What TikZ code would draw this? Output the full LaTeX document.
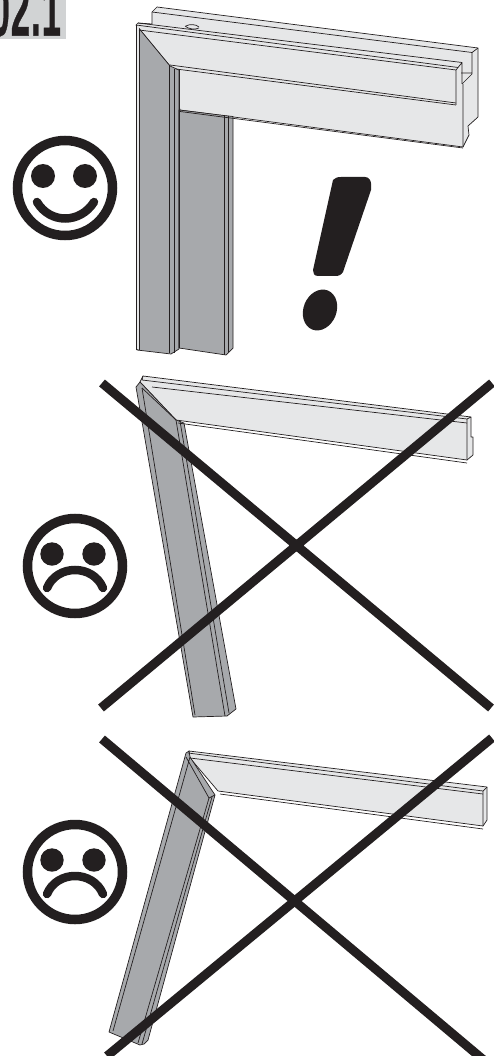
\documentclass[tikz,border=0pt]{standalone}
\usepackage{fontspec}
\setmainfont{Liberation Sans}
\newfontfamily\tabfont[BoldFeatures={FakeBold=0.7}, LetterSpace=3]{Liberation Sans}
\usetikzlibrary{positioning}
\definecolor{inkdark}{RGB}{35,31,32}
\definecolor{railgray}{RGB}{230,231,232}
\definecolor{leggray}{RGB}{167,169,172}
\definecolor{tabgray}{RGB}{209,211,212}
\tikzset{
  rail/.style={fill=railgray, draw=inkdark, line width=0.7pt, line join=round},
  leg/.style={fill=leggray, draw=inkdark, line width=0.7pt, line join=round},
  edgeline/.style={draw=inkdark, line width=0.7pt},
  crossbar/.style={draw=inkdark, line width=9pt},
  faceline/.style={draw=inkdark, line width=9.5pt},
  mouthline/.style={draw=inkdark, line width=8.5pt, line cap=round},
  eyedot/.style={fill=inkdark, draw=none}
}
\begin{document}
\begin{tikzpicture}[x=1pt, y=-1pt]
  \useasboundingbox (0,0) rectangle (494,1056);
  \clip (0,0) rectangle (494,1056);
  % Tab
  \fill[tabgray] (0,0) rectangle (66,39);
  \begin{scope}
    \clip (0,0) rectangle (66,39);
    \node[anchor=south east, inner sep=0pt, xscale=0.46, text=inkdark, font=\fontsize{75}{75}\tabfont\bfseries] (tab) at (61,36.5) {02.1};
  \end{scope}
  % Good frame
  \path[rail] (157,7) -- (478,48) -- (478,117) -- (468,126) -- (469,135) -- (463,147) -- (180,110) -- (170,66) -- (136,25) -- (138,23) -- (152,24) -- (152,12) -- cycle;
  \path[leg] (137,26) -- (170,66) -- (179,70) -- (179,349) -- (171,354) -- (137,350) -- cycle;
  \path[leg] (179,110) -- (224,115.5) -- (233,116.5) -- (233,348) -- (226,355) -- (179,348) -- cycle;
  \fill[railgray] (136,25) rectangle (138.5,349);
  \draw[edgeline] (136,25) -- (136,350) (139,29) -- (139,350);
  \draw[edgeline] (169,65) -- (169,353) (174,69) -- (174,353) (179,70) -- (179,348);
  \draw[edgeline] (224,115) -- (224,355) (228,116) -- (228,352);
  % Rail lines
  \draw[edgeline] (152,12) -- (472,52.5) -- (478,48);
  \draw[edgeline] (138,23) -- (462,62.5) (136,25) -- (458,67.5) (139,30) -- (456,70);
  \draw[edgeline] (170,65) -- (456,103) (176,69) -- (456,105);
  \draw[edgeline] (462,62.5) -- (462,84) (456,70) -- (456,105) (462,62.5) -- (456,70);
  \draw[edgeline] (472,52.5) -- (472,74) -- (462,84) (461,73) -- (472,73);
  \draw[edgeline] (463,84) -- (463,147) (180,111.5) -- (463,148);
  \draw[edgeline] (186,26) .. controls (189,24) and (196,24) .. (199,27);
  \draw[edgeline] (185,26) .. controls (188,29) and (195,30) .. (199,28);
  % Exclamation mark
  \fill[inkdark] (333,180) .. controls (335,178) and (337,177) .. (341,177) -- (365,177) .. controls (369,177) and (372,180) .. (371,190) -- (343,272) .. controls (341,275) and (339,276) .. (335,276) -- (318,276) .. controls (314,276) and (313,273) .. (313,270) -- cycle;
  \fill[inkdark] (320,310) ellipse [x radius=16.5, y radius=21, rotate=-22];
  % Happy face
  \draw[faceline] (65,188) circle (47.5);
  \fill[eyedot] (43,176) circle (12) (85,176) circle (12);
  \draw[mouthline] (37,202) .. controls (50,224) and (80,224) .. (94,202);
  % Frame with leg tilted inward
  \path[rail] (143,376) -- (471,417) -- (471,437) -- (473,437) -- (473,455) -- (467,460) -- (176,420) -- (140,382) -- cycle;
  \path[leg] (136,387) -- (140,382) -- (176,420) -- (184,423) -- (236,709) -- (227,716) -- (193,717) -- cycle;
  \draw[edgeline] (142,388) -- (195,715) (176,420) -- (225,716) (180,421) -- (229,713);
  \draw[edgeline] (142,388) -- (176,420);
  \draw[edgeline] (142,380) -- (467,419) (152,387) -- (467,423) (143,376) -- (142,380);
  \draw[edgeline] (467,419) -- (467,460) (471,417) -- (467,419) (178,423) -- (467,463);
  % Frame with leg tilted outward
  \path[rail] (189,751) -- (487,787) -- (487,820) -- (483,826) -- (218,791) -- (190,758) -- cycle;
  \path[leg] (186,753) -- (189,751) -- (190,757) -- (215,795) -- (148,1040) -- (144,1044) -- (140,1045) -- (109,1032) -- cycle;
  \draw[edgeline] (190,757) -- (113,1031) (186,757) -- (209,798) -- (215,795);
  \draw[edgeline] (209,798) -- (138,1043) (212,797) -- (142,1044);
  \draw[edgeline] (188,753) -- (483,791) (190,758) -- (483,794);
  \draw[edgeline] (483,791) -- (483,826) (487,787) -- (483,791) (220,794) -- (483,829);
  % Sad faces
  \foreach \facey in {566,872} {
    \draw[faceline] (75,\facey) circle (47.5);
    \fill[eyedot] (52,\facey-12) circle (11.7) (94,\facey-12) circle (11.7);
    \draw[mouthline] (47,\facey+22) .. controls (57,\facey-2) and (93,\facey-2) .. (103,\facey+22);
  }
  % Crosses
  \draw[crossbar] (102,383) -- (491,708) (101,708) -- (492,383);
  \draw[crossbar] (102,739) -- (492,1067) (492,738) -- (107,1056);
\end{tikzpicture}
\end{document}
